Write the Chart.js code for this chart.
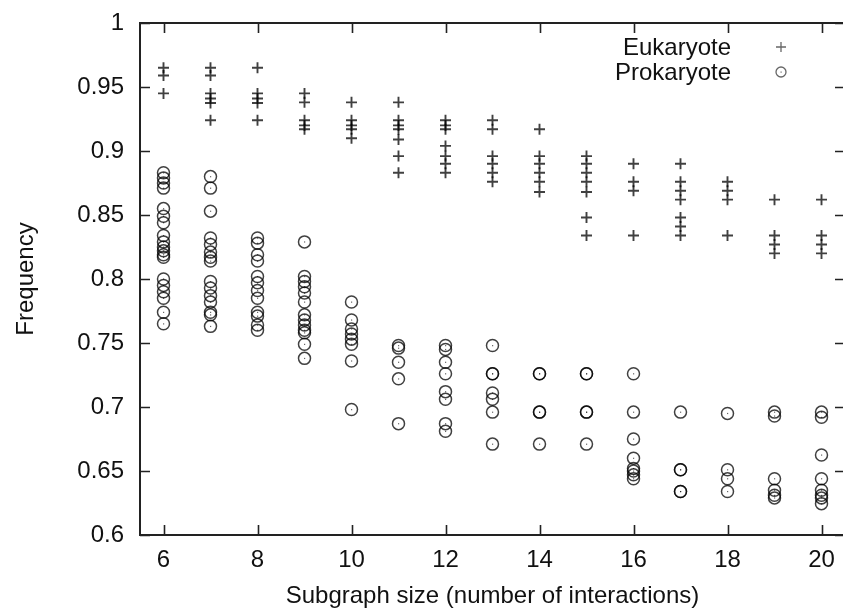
<!DOCTYPE html>
<html>
<head>
<meta charset="utf-8">
<script src="https://cdn.jsdelivr.net/npm/chart.js@4.4.1/dist/chart.umd.min.js"></script>
<style>
  html, body { margin: 0; padding: 0; background: #fff; overflow: hidden; }
</style>
</head>
<body>
<canvas id="chart" width="846" height="609"></canvas>
<script>
// Subgraph sizes (x) and the frequencies found at each size
const sizes = [6, 7, 8, 9, 10, 11, 12, 13, 14, 15, 16, 17, 18, 19, 20];

const eukaryote = [
    [0.965, 0.959, 0.945],
    [0.965, 0.959, 0.945, 0.941, 0.9375, 0.924],
    [0.965, 0.945, 0.941, 0.9375, 0.924],
    [0.945, 0.938, 0.924, 0.92, 0.917],
    [0.938, 0.924, 0.92, 0.917, 0.91],
    [0.938, 0.924, 0.92, 0.917, 0.909, 0.896, 0.883],
    [0.924, 0.92, 0.917, 0.904, 0.896, 0.89, 0.883],
    [0.924, 0.917, 0.896, 0.89, 0.883, 0.876],
    [0.917, 0.896, 0.89, 0.883, 0.876, 0.868],
    [0.896, 0.89, 0.883, 0.876, 0.868, 0.848, 0.834],
    [0.89, 0.876, 0.869, 0.834],
    [0.89, 0.876, 0.869, 0.862, 0.848, 0.841, 0.834],
    [0.876, 0.869, 0.862, 0.834],
    [0.862, 0.834, 0.827, 0.82],
    [0.862, 0.834, 0.827, 0.82]
];

const prokaryote = [
    [0.883, 0.879, 0.875, 0.871, 0.855, 0.849, 0.844, 0.834, 0.829, 0.825, 0.822, 0.819, 0.817, 0.8, 0.795, 0.79, 0.785, 0.774, 0.765],
    [0.88, 0.871, 0.853, 0.832, 0.827, 0.821, 0.817, 0.814, 0.798, 0.793, 0.787, 0.782, 0.774, 0.772, 0.763],
    [0.832, 0.828, 0.819, 0.814, 0.802, 0.797, 0.791, 0.785, 0.774, 0.771, 0.764, 0.76],
    [0.829, 0.802, 0.798, 0.794, 0.789, 0.782, 0.772, 0.768, 0.764, 0.76, 0.758, 0.749, 0.738],
    [0.782, 0.768, 0.761, 0.757, 0.753, 0.749, 0.736, 0.698],
    [0.748, 0.746, 0.735, 0.722, 0.687],
    [0.748, 0.745, 0.735, 0.726, 0.712, 0.706, 0.687, 0.681],
    [0.748, 0.726, 0.726, 0.711, 0.706, 0.696, 0.671],
    [0.726, 0.726, 0.696, 0.696, 0.671],
    [0.726, 0.726, 0.696, 0.696, 0.671],
    [0.726, 0.696, 0.675, 0.66, 0.652, 0.65, 0.647, 0.644],
    [0.696, 0.651, 0.651, 0.634, 0.634],
    [0.695, 0.651, 0.644, 0.634],
    [0.696, 0.693, 0.644, 0.635, 0.631, 0.629],
    [0.696, 0.692, 0.6625, 0.644, 0.635, 0.631, 0.629, 0.6245]
];

const xTicks = [6, 8, 10, 12, 14, 16, 18, 20];
const yTicks = [0.6, 0.65, 0.7, 0.75, 0.8, 0.85, 0.9, 0.95, 1];

function toPoints(groups) {
    return groups.flatMap((vals, i) => vals.map(v => ({ x: sizes[i], y: v })));
}

const ink = 'rgba(0,0,0,0.75)';
const font = { family: '"Liberation Sans", Arial, sans-serif', size: 24 };

// gnuplot-like frame, inward ticks, legend and circle centre dots
const gnuplotLook = {
    id: 'gnuplotLook',
    afterDatasetsDraw(chart) {
        const ctx = chart.ctx;
        const { left, right, top, bottom } = chart.chartArea;
        const xs = chart.scales.x, ys = chart.scales.y;
        const tick = 10;

        ctx.save();
        // centre dots of the circles
        ctx.fillStyle = 'rgba(0,0,0,0.6)';
        chart.getDatasetMeta(1).data.forEach(el => {
            ctx.fillRect(el.x - 0.5, el.y - 0.5, 1.2, 1.2);
        });

        ctx.strokeStyle = '#222';
        ctx.lineWidth = 2;
        ctx.strokeRect(left, top, right - left, bottom - top);
        ctx.lineWidth = 1.6;
        ctx.beginPath();
        xTicks.forEach(v => {
            const px = Math.round(xs.getPixelForValue(v)) + 0.5;
            ctx.moveTo(px, bottom); ctx.lineTo(px, bottom - tick);
            ctx.moveTo(px, top); ctx.lineTo(px, top + tick);
        });
        yTicks.forEach(v => {
            const py = Math.round(ys.getPixelForValue(v)) + 0.5;
            ctx.moveTo(left, py); ctx.lineTo(left + tick, py);
            ctx.moveTo(right, py); ctx.lineTo(right - tick, py);
        });
        ctx.stroke();

        // legend
        ctx.font = font.size + 'px ' + font.family;
        ctx.fillStyle = '#111';
        ctx.textAlign = 'right';
        ctx.textBaseline = 'middle';
        const rows = [48, 73];
        const sx = 781;
        chart.data.datasets.forEach((ds, i) => {
            const y = rows[i];
            ctx.fillText(ds.label, 731, y);
            ctx.strokeStyle = 'rgba(0,0,0,0.6)';
            ctx.lineWidth = 1.3;
            ctx.beginPath();
            if (ds.pointStyle === 'cross') {
                ctx.moveTo(sx - 5, y - 1); ctx.lineTo(sx + 5, y - 1);
                ctx.moveTo(sx, y - 6); ctx.lineTo(sx, y + 4);
            } else {
                ctx.arc(sx, y - 1, 5, 0, Math.PI * 2);
            }
            ctx.stroke();
            if (ds.pointStyle !== 'cross') {
                ctx.fillStyle = 'rgba(0,0,0,0.6)';
                ctx.fillRect(sx - 0.5, y - 1.5, 1.2, 1.2);
                ctx.fillStyle = '#111';
            }
        });
        ctx.restore();
    }
};

new Chart(document.getElementById('chart'), {
    type: 'scatter',
    data: {
        datasets: [
            {
                label: 'Eukaryote',
                data: toPoints(eukaryote),
                pointStyle: 'cross',
                pointRadius: 5.5,
                borderWidth: 1.9,
                borderColor: ink,
                backgroundColor: ink
            },
            {
                label: 'Prokaryote',
                data: toPoints(prokaryote),
                pointStyle: 'circle',
                pointRadius: 6,
                borderWidth: 1.5,
                borderColor: ink,
                backgroundColor: 'rgba(0,0,0,0)'
            }
        ]
    },
    options: {
        responsive: false,
        animation: false,
        layout: { autoPadding: false, padding: { top: 23, right: 1, bottom: 0, left: 0 } },
        plugins: {
            legend: { display: false },
            tooltip: { enabled: false }
        },
        scales: {
            x: {
                type: 'linear',
                min: 5.5,
                max: 20.5,
                afterBuildTicks: s => { s.ticks = xTicks.map(v => ({ value: v })); },
                afterFit: s => { s.height = 74; },
                grid: { display: false, drawTicks: false },
                border: { display: false },
                ticks: { color: '#111', font: font, padding: 11 },
                title: { display: true, text: 'Subgraph size (number of interactions)', color: '#111', font: font, padding: { top: 0, bottom: -2 } }
            },
            y: {
                min: 0.6,
                max: 1,
                afterBuildTicks: s => { s.ticks = yTicks.map(v => ({ value: v })); },
                afterFit: s => { s.width = 140; s.paddingTop = 0; s.paddingBottom = 0; },
                grid: { display: false, drawTicks: false },
                border: { display: false },
                ticks: { color: '#111', font: font, padding: 16, callback: v => String(+v.toFixed(2)) },
                title: { display: true, text: 'Frequency', color: '#111', font: font, padding: { top: 12, bottom: 0 } }
            }
        }
    },
    plugins: [gnuplotLook]
});
</script>
</body>
</html>
